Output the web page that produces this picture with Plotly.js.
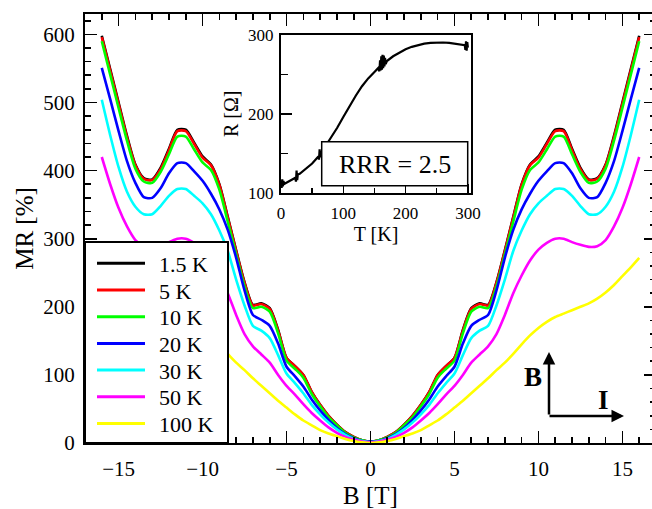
<!DOCTYPE html>
<html><head><meta charset="utf-8">
<script src="https://cdn.plot.ly/plotly-3.0.1.min.js"></script>
<style>html,body{margin:0;padding:0;overflow:hidden;background:#fff}#chart{width:662px;height:509px}</style>
</head><body><div id="chart"></div>
<script>
// ---------- DATA ----------
const B = [-16,-15.5,-15,-14.5,-14,-13.5,-13,-12.5,-12,-11.5,-11,-10.5,-10,-9.5,-9,-8.5,-8,-7.5,-7,-6.5,-6,-5.5,-5,-4.5,-4,-3.5,-3,-2.5,-2,-1.5,-1,-0.5,
  0,0.5,1,1.5,2,2.5,3,3.5,4,4.5,5,5.5,6,6.5,7,7.5,8,8.5,9,9.5,10,10.5,11,11.5,12,12.5,13,13.5,14,14.5,15,15.5,16];

const temps  = ['1.5 K','5 K','10 K','20 K','30 K','50 K','100 K'];
const colors = ['#000000','#ff0000','#00ff00','#0000ff','#00ffff','#ff00ff','#ffff00'];

const mr_1p5K = [598,549,500,451,409,389,387,404,432,460,460,441,421,409,380,332,283,236,203,205,198,166,125,113,100,75,56,40,27,16,9,4,
  2,4,9,16,27,40,56,75,100,113,125,166,198,205,203,236,283,332,380,409,421,441,460,460,432,404,387,389,409,451,500,549,598];
const mr_5K   = [596,547,498,449,408,388,386,402,430,458,458,439,419,408,379,331,282,235,202,204,197,165,125,113,100,75,56,40,27,16,9,4,
  2,4,9,16,27,40,56,75,100,113,125,165,197,204,202,235,282,331,379,408,419,439,458,458,430,402,386,388,408,449,498,547,596];
const mr_10K  = [590,541,492,444,403,384,382,398,424,450,450,431,412,401,372,325,277,230,198,200,193,161,121,109,96,72,54,38,26,15,8,4,
  2,4,8,15,26,38,54,72,96,109,121,161,193,200,198,230,277,325,372,401,412,431,450,450,424,398,382,384,403,444,492,541,590];
const mr_20K  = [551,505,458,414,382,361,360,374,396,411,411,399,385,366,343,313,272,224,188,181,172,146,112,98,83,64,48,34,22,13,7,3,
  2,3,7,13,22,34,48,64,83,98,112,146,172,181,188,224,272,313,343,366,385,399,411,411,396,374,360,361,382,414,458,505,551];
const mr_30K  = [504,452,405,369,347,336,336,348,363,373,373,363,352,336,312,282,240,202,172,165,154,129,102,88,73,56,42,30,20,12,6,3,
  1,3,6,12,20,30,42,56,73,88,102,129,154,165,172,202,240,282,312,336,352,363,373,373,363,348,336,336,347,369,405,452,504];
const mr_50K  = [420,380,345,318,298,289,288,291,295,300,300,294,284,268,246,220,188,160,142,130,118,100,84,71,57,44,33,23,15,9,5,2,
  1,2,5,9,15,23,33,44,57,71,84,100,118,130,142,160,188,220,246,268,284,294,300,300,295,291,288,289,298,318,345,380,420];
const mr_100K = [272,258,245,232,221,212,205,200,195,190,185,178,169,158,145,131,118,107,95,84,73,62,52,42,33,26,19,14,10,6,3,1,
  0,1,3,6,10,14,19,26,33,42,52,62,73,84,95,107,118,131,145,158,169,178,185,190,195,200,205,212,221,232,245,258,272];

// inset: R(T)
const T_inset = [1,2,3,4,5,7,10,15,20,23,24,25,26,27,30,40,50,60,61,62,63,64,70,80,90,100,110,120,130,140,150,156,158,159,160,161,162,163,164,165,166,167,168,170,180,190,200,210,220,230,240,250,260,270,280,290,295,296,297,298,299,300];
const R_inset = [106,117,108,115,111,112,113,115,118,119,114,128,116,123,124,130,137,146,142,155,145,150,157,169,182,196,210,223,235,245,253,258,254,268,255,273,256,275,258,274,260,271,263,267,273,278,282,285,287.5,289,290,290.5,290.5,290,289,288,287,281,292,280,291,284];

const rrrLabel = 'RRR = 2.5';

// ---------- LAYOUT ----------
const FONT = 'Liberation Serif, Times New Roman, serif';
const W = 662, H = 509, ML = 85, MRG = 6, MT = 14, MB = 66;
const PW = W - ML - MRG, PH = H - MT - MB;
const px = x => (x - ML) / PW;
const py = y => (H - MB - y) / PH;

const series = [mr_1p5K, mr_5K, mr_10K, mr_20K, mr_30K, mr_50K, mr_100K];
const traces = series.map((s, i) => ({
  x: B, y: s, type: 'scatter', mode: 'lines', name: temps[i], showlegend: false,
  line: {color: colors[i], width: 2.6, shape: 'spline', smoothing: 0.7}
}));
traces.push({
  x: T_inset, y: R_inset, xaxis: 'x2', yaxis: 'y2', type: 'scatter', mode: 'lines',
  showlegend: false, line: {color: '#000', width: 2.2}
});

const shapes = [];
const annotations = [];
// legend box
shapes.push({type: 'rect', xref: 'paper', yref: 'paper', x0: px(85), x1: px(228), y0: py(443), y1: py(242),
  fillcolor: '#fff', line: {color: '#000', width: 2}, layer: 'above'});
temps.forEach((t, i) => {
  const yy = 263.3 + 26.7 * i;
  shapes.push({type: 'line', xref: 'paper', yref: 'paper', x0: px(97), x1: px(145), y0: py(yy), y1: py(yy),
    line: {color: colors[i], width: 3}, layer: 'above'});
  annotations.push({xref: 'paper', yref: 'paper', x: px(157), y: py(yy + 1), xanchor: 'left', yanchor: 'middle',
    text: t, showarrow: false, font: {family: FONT, size: 22, color: '#000'}});
});
// RRR box
shapes.push({type: 'rect', xref: 'paper', yref: 'paper', x0: px(321.7), x1: px(467.7), y0: py(185.7), y1: py(141.7),
  fillcolor: '#fff', line: {color: '#000', width: 1.5}, layer: 'above'});
annotations.push({xref: 'paper', yref: 'paper', x: px(394.7), y: py(164), xanchor: 'center', yanchor: 'middle',
  text: rrrLabel, showarrow: false, font: {family: FONT, size: 26, color: '#000'}});
// B / I arrows
annotations.push({xref: 'paper', yref: 'paper', x: px(549), y: py(352), ax: 0, ay: 64, text: '',
  showarrow: true, arrowhead: 2, arrowsize: 1, arrowwidth: 2.5, arrowcolor: '#000'});
annotations.push({xref: 'paper', yref: 'paper', x: px(624), y: py(416), ax: -76, ay: 0, text: '',
  showarrow: true, arrowhead: 2, arrowsize: 1, arrowwidth: 2.5, arrowcolor: '#000'});
annotations.push({xref: 'paper', yref: 'paper', x: px(533), y: py(377), xanchor: 'center', yanchor: 'middle',
  text: '<b>B</b>', showarrow: false, font: {family: FONT, size: 27, color: '#000'}});
annotations.push({xref: 'paper', yref: 'paper', x: px(603), y: py(400), xanchor: 'center', yanchor: 'middle',
  text: '<b>I</b>', showarrow: false, font: {family: FONT, size: 27, color: '#000'}});

const axBase = {
  ticks: 'inside', showline: true, linecolor: '#000', linewidth: 2, mirror: 'ticks',
  zeroline: false, showgrid: false, tickcolor: '#000', tickwidth: 1.6,
  tickfont: {family: FONT, size: 21, color: '#000'}
};

const layout = {
  width: W, height: H, margin: {l: ML, r: MRG, t: MT, b: MB},
  paper_bgcolor: '#fff', plot_bgcolor: '#fff', showlegend: false,
  font: {family: FONT, color: '#000'},
  xaxis: Object.assign({}, axBase, {
    range: [-17, 17], tick0: 0, dtick: 5, ticklen: 12, ticklabelstandoff: 6,
    minor: {dtick: 1, ticklen: 6, ticks: 'inside', tickcolor: '#000', tickwidth: 1.6, showgrid: false},
    title: {text: 'B [T]', font: {family: FONT, size: 25, color: '#000'}, standoff: 12}
  }),
  yaxis: Object.assign({}, axBase, {
    range: [0, 630], tick0: 0, dtick: 100, ticklen: 12, ticklabelstandoff: 4,
    minor: {dtick: 20, ticklen: 6, ticks: 'inside', tickcolor: '#000', tickwidth: 1.6, showgrid: false},
    title: {text: 'MR [%]', font: {family: FONT, size: 25, color: '#000'}, standoff: 3}
  }),
  xaxis2: {
    domain: [px(281), px(471)], anchor: 'y2', range: [0, 305], tick0: 0, dtick: 100,
    ticks: 'inside', ticklen: 9, tickwidth: 1.5, tickcolor: '#000', showline: true, linecolor: '#000', linewidth: 2,
    mirror: true, zeroline: false, showgrid: false, ticklabelstandoff: 4,
    minor: {dtick: 50, ticklen: 5, ticks: 'inside', tickcolor: '#000', tickwidth: 1.5, showgrid: false},
    tickfont: {family: FONT, size: 17, color: '#000'},
    title: {text: 'T [K]', font: {family: FONT, size: 20, color: '#000'}, standoff: 4}
  },
  yaxis2: {
    domain: [py(192.7), py(35)], anchor: 'x2', range: [100, 300], tick0: 100, dtick: 100,
    ticks: 'inside', ticklen: 11, tickwidth: 1.5, tickcolor: '#000', showline: true, linecolor: '#000', linewidth: 2,
    mirror: true, zeroline: false, showgrid: false, ticklabelstandoff: 2,
    minor: {dtick: 50, ticklen: 7, ticks: 'inside', tickcolor: '#000', tickwidth: 1.5, showgrid: false},
    tickfont: {family: FONT, size: 17, color: '#000'},
    title: {text: 'R [Ω]', font: {family: FONT, size: 20, color: '#000'}, standoff: 4}
  },
  shapes: shapes,
  annotations: annotations
};

Plotly.newPlot('chart', traces, layout, {displayModeBar: false, staticPlot: true});
</script>
</body></html>
